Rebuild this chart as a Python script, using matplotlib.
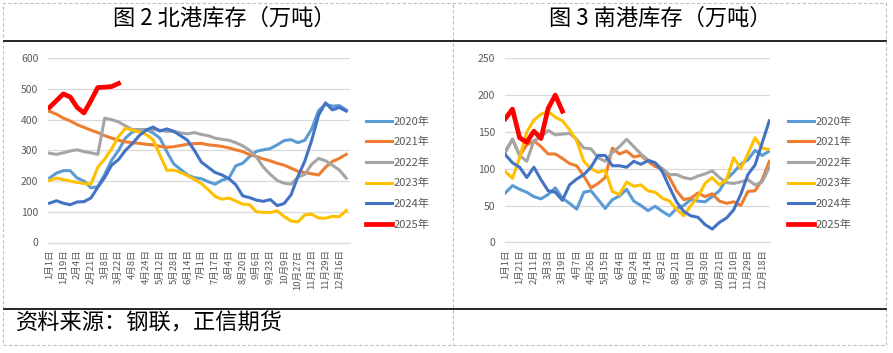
import matplotlib
matplotlib.use('Agg')
from matplotlib import pyplot as plt
from matplotlib.patches import Rectangle
from matplotlib.lines import Line2D

plt.rcParams['font.family'] = ['Noto Sans CJK SC', 'DejaVu Sans']

# ---- 图2 北港库存（万吨） ----
north_labels = ['1月1日', '1月19日', '2月4日', '2月21日', '3月8日', '3月22日', '4月8日', '4月24日',
                '5月12日', '5月28日', '6月14日', '7月1日', '7月17日', '8月4日', '8月20日', '9月6日',
                '9月23日', '10月9日', '10月27日', '11月12日', '11月29日', '12月16日']
north_2020 = [210, 226, 234, 234, 210, 200, 178, 182, 222, 268,
              300, 340, 360, 367, 368, 357, 340, 296, 256, 238,
              220, 211, 208, 198, 190, 203, 210, 250, 258, 280,
              297, 302, 306, 318, 332, 335, 325, 333, 370, 430,
              450, 444, 446, 432]
north_2021 = [427, 418, 405, 396, 384, 375, 366, 358, 348, 340,
              333, 328, 325, 323, 320, 318, 313, 310, 312, 316,
              320, 322, 323, 318, 316, 313, 308, 302, 296, 286,
              280, 272, 266, 258, 252, 242, 232, 228, 224, 220,
              245, 264, 274, 287]
north_2022 = [291, 287, 292, 298, 302, 296, 292, 287, 405, 400,
              393, 380, 368, 368, 366, 368, 366, 362, 362, 357,
              354, 358, 352, 348, 340, 336, 333, 325, 315, 300,
              278, 245, 222, 202, 193, 190, 212, 222, 255, 274,
              266, 252, 236, 210]
north_2023 = [202, 210, 205, 200, 196, 192, 190, 245, 272, 305,
              345, 372, 366, 360, 352, 335, 285, 235, 236, 228,
              218, 206, 192, 172, 150, 141, 145, 135, 125, 123,
              100, 98, 98, 103, 85, 70, 67, 90, 92, 80,
              79, 85, 84, 104]
north_2024 = [128, 136, 128, 123, 132, 133, 145, 180, 212, 252,
              270, 300, 322, 348, 366, 376, 363, 370, 362, 348,
              333, 300, 262, 245, 228, 220, 208, 188, 152, 146,
              138, 134, 140, 120, 127, 155, 215, 265, 333, 415,
              455, 432, 440, 428]
north_2025 = [440, 462, 484, 474, 440, 422, 462, 505, 506, 508, 518]

# ---- 图3 南港库存（万吨） ----
south_labels = ['1月1日', '1月21日', '2月11日', '3月3日', '3月19日', '4月7日', '4月26日', '5月15日',
                '6月4日', '6月24日', '7月14日', '8月2日', '8月21日', '9月10日', '9月30日', '10月21日',
                '11月10日', '11月29日', '12月18日']
south_2020 = [67, 77, 72, 68, 62, 59, 65, 74, 60, 53,
              45, 68, 70, 58, 46, 58, 63, 72, 56, 50,
              43, 49, 42, 36, 46, 50, 58, 56, 55, 62,
              70, 86, 95, 106, 112, 125, 118, 124]
south_2021 = [124, 140, 118, 132, 138, 130, 120, 120, 114, 107,
              104, 90, 74, 80, 88, 128, 120, 124, 116, 118,
              110, 103, 100, 88, 70, 58, 60, 67, 62, 66,
              56, 53, 55, 50, 69, 70, 85, 110]
south_2022 = [122, 140, 118, 110, 138, 143, 152, 146, 147, 148,
              140, 128, 127, 115, 110, 122, 130, 140, 130, 120,
              112, 108, 100, 92, 92, 88, 86, 90, 93, 97,
              88, 81, 80, 82, 85, 78, 82, 102]
south_2023 = [96, 87, 115, 150, 166, 174, 178, 170, 165, 153,
              138, 110, 100, 95, 98, 69, 65, 82, 76, 78,
              70, 68, 60, 56, 45, 36, 50, 62, 80, 88,
              78, 85, 115, 100, 120, 142, 128, 126]
south_2024 = [119, 108, 102, 88, 102, 85, 70, 68, 57, 78,
              86, 92, 102, 118, 118, 104, 104, 102, 110, 106,
              111, 108, 96, 75, 55, 42, 36, 34, 24, 18,
              27, 33, 44, 65, 92, 105, 135, 165]
south_2025 = [168, 181, 142, 136, 151, 141, 182, 200, 178]

years = ['2020年', '2021年', '2022年', '2023年', '2024年', '2025年']
colors = ['#5B9BD5', '#ED7D31', '#A5A5A5', '#FFC000', '#4472C4', '#FF0000']
widths = [2.2, 2.2, 2.2, 2.2, 2.2, 3.4]

W, H = 893, 353
fig = plt.figure(figsize=(W / 100, H / 100), dpi=100)


def fx(px):
    return px / W


def fy(py):
    return 1 - py / H


# page frame: dashed border, divider, black rules
fig.patches.append(Rectangle((fx(3), fy(345)), fx(883), (342) / H, transform=fig.transFigure,
                             fill=False, ec='#BFBFBF', lw=0.8, ls=(0, (3, 2))))
fig.add_artist(Line2D([fx(453), fx(453)], [fy(4), fy(345)], transform=fig.transFigure,
                      color='#BFBFBF', lw=0.8, ls=(0, (3, 2))))
for yy in (40.5, 308.5):
    fig.add_artist(Line2D([fx(4), fx(886)], [fy(yy), fy(yy)], transform=fig.transFigure,
                          color='black', lw=1.2))

fig.text(fx(224), fy(18), '图 2 北港库存（万吨）', ha='center', va='center', fontsize=16)
fig.text(fx(660), fy(18), '图 3 南港库存（万吨）', ha='center', va='center', fontsize=16)
fig.text(fx(16), fy(323), '资料来源：钢联，正信期货', ha='left', va='center', fontsize=16)


def draw(ax, series, labels, ymax, ystep, legend_x):
    for s, name, c, lw in zip(series, years, colors, widths):
        ax.plot(range(len(s)), s, color=c, lw=lw, label=name, solid_joinstyle='round')
    for k in ('top', 'right', 'left'):
        ax.spines[k].set_visible(False)
    ax.spines['bottom'].set_color('#D9D9D9')
    ax.spines['bottom'].set_linewidth(0.9)
    ax.set_ylim(0, ymax)
    ax.set_yticks(range(0, ymax + 1, ystep))
    ax.grid(axis='y', color='#D9D9D9', lw=0.9)
    ax.set_axisbelow(True)
    ax.tick_params(axis='both', length=0, colors='#595959')
    ax.tick_params(axis='y', labelsize=7.5, pad=7)
    ax.tick_params(axis='x', labelsize=6.8, pad=5)
    ax.set_xticks(range(0, 2 * len(labels), 2))
    ax.set_xticklabels(labels, rotation=90, va='top')
    ax.legend(loc='center left', bbox_to_anchor=(fx(legend_x), fy(173)),
              bbox_transform=fig.transFigure, frameon=False, fontsize=8,
              handlelength=2.3, handletextpad=0.15, labelspacing=0.92,
              borderpad=0, borderaxespad=0, labelcolor='#595959')


ax1 = fig.add_axes([fx(48), fy(242.5), fx(302), (242.5 - 58.3) / H])
draw(ax1, [north_2020, north_2021, north_2022, north_2023, north_2024, north_2025],
     north_labels, 600, 100, 366)
ax1.set_xlim(-0.22, 43.55)

ax2 = fig.add_axes([fx(505), fy(242.3), fx(265), (242.3 - 58.3) / H])
draw(ax2, [south_2020, south_2021, south_2022, south_2023, south_2024, south_2025],
     south_labels, 250, 50, 788)
ax2.set_xlim(-0.05, 37.1)

fig.savefig('out.png', dpi=100)
